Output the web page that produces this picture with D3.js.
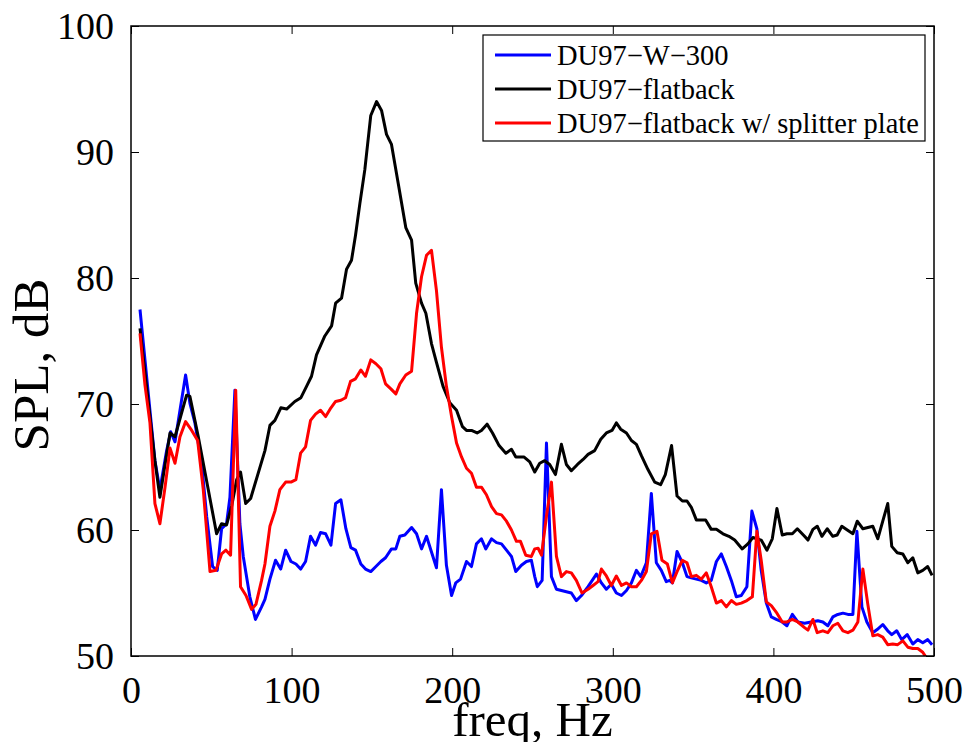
<!DOCTYPE html>
<html>
<head>
<meta charset="utf-8">
<script src="https://cdn.jsdelivr.net/npm/d3@7/dist/d3.min.js"></script>
<style>
  html, body { margin: 0; padding: 0; background: #fff; }
  svg { display: block; }
  text { font-family: "Liberation Serif", "Times New Roman", serif; fill: #000; }
</style>
</head>
<body>
<svg id="chart" width="966" height="742"></svg>
<script>
// Spectra of three trailing-edge configurations (frequency in Hz, SPL in dB)
const seriesNames = ["DU97\u2212W\u2212300", "DU97\u2212flatback", "DU97\u2212flatback w/ splitter plate"];
const seriesColors = ["#0000ff", "#000000", "#ff0000"];

const freqW300 = [5.6,8.7,11.8,14.9,18,22.2,24.7,27.4,30.5,34,36.7,39.8,44,47.1,50.8,53.7,56.4,59.5,61.6,64.7,67.8,69.9,74,77.5,81.3,83.4,86.5,90,93.2,96.3,99.6,102.7,105.6,108.7,111.8,114.9,118,121.2,124.5,127.4,130.7,133.8,136.9,139.8,143.1,146,149.3,152.5,155.6,158.5,162.2,164.9,167.4,170.5,174.7,177.8,180.9,184,190.2,193.3,196.4,199.6,202.2,205.2,208.9,212,215.1,218.2,220.9,224.5,227.6,230.7,233.8,236.9,239.6,243.1,246.2,249.3,251.4,253,256,258.7,261.8,264.9,268,274.2,277.3,280.5,284.6,289.8,292.9,296,299.1,302.2,305.4,308.5,311.6,314.7,317.4,320.9,324,327.1,330.2,333.3,335.4,337.1,340,343.3,346.2,348.9,352,355.1,358.2,361.3,364.5,367.6,370.7,373.8,376.9,380,383.5,386.6,389.7,392.4,395.6,398.7,401.8,405.5,408.4,411.8,415.2,419.4,423.6,427.7,430.8,433.9,437,440.1,443.3,446.4,449.5,452,455.1,458.2,461.9,464.6,468.1,471.2,473.7,476.8,479.9,483.3,486.8,489.9,493,496.1,498.8];
const splW300 = [77.5,73.5,69.5,65.5,63.2,66.3,67.8,67.0,69.5,72.3,70.05,68.5,65.3,61.1,57.1,56.8,60.1,60.5,62.6,71.1,60.5,57.9,54.7,52.9,53.9,54.5,56.1,57.6,56.9,58.4,57.5,57.3,56.9,57.5,59.5,58.8,59.8,59.7,58.8,62.1,62.4,60.1,58.6,58.4,57.3,56.9,56.7,57.1,57.5,57.8,58.5,58.5,59.5,59.6,60.2,59.7,58.5,59.5,57.0,63.2,57.2,54.8,55.8,56.1,57.5,57.1,58.9,59.3,58.5,59.3,59.0,58.9,58.4,57.9,56.7,57.2,57.5,57.6,56.3,55.5,56.0,66.9,56.3,55.3,55.2,55.0,54.4,54.8,55.5,56.5,55.8,55.3,55.7,55.0,54.8,55.2,55.8,56.8,56.3,57.4,62.9,57.4,56.8,55.9,56.0,55.8,58.3,57.4,56.3,56.2,56.1,56.0,55.8,56.0,57.5,58.1,57.1,56.0,54.7,54.8,55.5,61.5,60.1,56.8,54.2,53.1,52.9,52.7,52.4,53.3,52.7,52.6,52.7,52.8,52.7,52.4,53.1,53.3,53.4,53.3,53.3,59.9,53.9,52.7,51.85,52.1,52.5,52.0,51.7,52.0,51.3,51.7,50.95,51.3,51.05,51.3,50.9];

const freqFlat = [5.6,8.7,11.8,14.9,18,24.3,27.4,34.6,36.7,41.9,53.3,56.4,59.5,62.7,65.8,68.2,71.4,74.5,83.4,86.5,89.6,93.3,96.9,102,105.8,109.3,112.4,115.5,120.7,124.9,127.4,131.1,134.2,137.3,139.8,142.5,145.6,149.3,152.9,156,159.1,162.2,166.4,171.1,174.7,177.3,180.9,183.6,187.1,190.2,194.3,198.5,202.7,206.4,208.9,212,215.5,218.2,221.7,225.1,229.2,233.4,236.9,239.6,244.6,248.3,251.4,254.5,257.6,260.7,264.3,268,271.1,274.2,278,281.5,284.6,288.7,292.5,296,299.5,302.2,304.9,308.5,311.6,314.7,317.8,321.9,326.1,329.8,332.7,336.6,340,343.3,346.2,348.9,352,357.8,361.3,364.5,368.6,372.3,375.9,380.6,384.1,387.2,392.4,396,399.3,402.2,405.5,408.4,411.8,414.9,419.4,421.5,424.6,427.3,430.2,433.5,437,439.7,442.6,446,449.5,452.2,455.7,458.8,461.9,465,468.1,471.2,473.7,477.1,480.6,483.7,486.8,489.9,493,496.1,498.8];
const splFlat = [76.0,72.5,69.0,65.5,62.6,67.7,67.4,70.7,70.6,67.4,59.7,60.5,60.4,61.9,64.0,64.6,62.1,62.5,66.3,68.3,68.7,69.7,69.6,70.2,70.5,71.4,72.2,73.9,75.4,76.2,78.0,78.4,80.7,81.4,83.4,85.9,88.6,92.9,94.0,93.3,91.4,90.6,87.5,84.0,83.0,79.6,78.0,77.2,74.8,73.3,71.4,70.1,69.5,68.2,67.9,67.9,67.7,67.9,68.4,67.7,66.7,66.1,66.4,65.8,65.8,65.4,64.6,65.3,65.5,65.2,64.4,66.8,65.2,64.7,65.2,65.6,66.0,66.3,67.2,67.7,67.9,68.5,68.0,67.7,67.1,66.8,65.9,64.8,63.8,63.6,64.4,66.7,62.7,62.3,62.3,61.8,60.8,60.8,60.05,60.05,59.7,59.5,59.2,58.5,58.9,59.4,59.2,58.4,59.3,61.7,59.6,59.7,59.7,60.1,59.5,59.2,60.05,60.3,59.5,60.1,59.5,59.6,60.3,60.0,59.7,60.7,60.1,60.2,60.3,59.3,60.7,62.1,58.7,58.2,58.1,57.4,57.8,56.6,56.8,57.1,56.4];

const freqSplit = [5.6,8.7,11.8,14.9,18,21.2,24.3,27.4,30.5,34,37.8,41.5,45,49.2,52.9,56.4,59.1,62,65.2,68.2,71.6,75.1,77.8,81.3,83.4,86.5,89.6,92.7,96.3,99.6,102.7,105.6,108.7,111.8,114.9,118,121.2,124.5,127.4,130.7,133.6,136.7,139.8,143.1,146,149.3,152.5,155.6,158.5,161.8,164.9,167.4,171.1,174.7,177.8,180.9,184,187.1,190.2,193.3,196.4,199.6,202.7,205.8,208.9,212,215.1,218.2,221.3,224.5,227.6,230.7,233.8,236.9,240,242.5,245.8,249.3,251.4,253.5,255.6,258.7,261.8,264.9,268,271.1,274.2,277.3,280.8,284.6,287.7,290.8,292.9,296,299.1,302.2,305.4,308.5,311.6,314.7,317.8,320.9,324,327.5,330.6,334,337.1,340,343.3,346.2,348.9,352,355.1,358.2,361.3,364.5,367.6,370.7,373.8,376.9,380,383.5,386.9,389.7,392.4,395.6,398.7,402.2,405.5,408.4,411.8,415.2,419.4,421.5,424.6,427.3,430.8,433.9,437,440.1,443.3,446.4,449.5,452.6,455.7,458.8,461.9,465,468.1,471.2,474.3,477.4,480.6,483.7,486.8,489.9,493,496.1,498.8];
const splSplit = [75.6,71.5,68.5,62.1,60.5,63.4,66.5,65.3,67.4,68.6,67.9,67.1,63.2,56.7,56.8,58.1,58.4,58.0,71.1,55.5,54.8,53.7,54.1,56.0,57.3,60.3,61.5,63.2,63.8,63.8,64.0,66.1,66.6,68.7,69.2,69.5,69.0,69.7,70.2,70.3,70.5,71.8,72.0,72.7,72.2,73.5,73.2,72.8,71.6,71.2,70.8,71.6,72.3,72.6,77.2,80.1,81.8,82.2,79.0,74.5,71.4,69.0,66.9,65.8,64.9,64.5,63.4,63.4,62.8,61.85,61.3,61.2,60.7,60.0,59.1,59.1,58.0,57.9,58.5,58.55,58.0,61.1,63.8,57.9,56.3,56.7,56.6,56.0,55.0,55.3,55.6,55.9,56.9,56.35,55.6,56.35,55.6,55.8,55.5,55.5,56.0,56.7,59.7,59.9,57.6,57.3,55.8,56.7,57.6,57.4,56.3,56.4,56.1,56.6,55.5,54.2,54.4,53.9,54.4,54.1,54.2,54.4,54.7,59.9,57.6,54.3,54.0,53.4,52.7,52.7,52.9,52.7,52.25,52.05,52.9,51.85,52.0,51.85,52.4,52.6,52.0,51.85,52.05,52.7,56.9,54.1,51.6,51.7,51.5,50.9,50.95,50.9,51.2,50.7,50.6,50.6,50.3,49.7,49.5];

const xTicks = [0, 100, 200, 300, 400, 500];
const yTicks = [50, 60, 70, 80, 90, 100];

const seriesFreq = [freqW300, freqFlat, freqSplit];
const seriesSpl = [splW300, splFlat, splSplit];

const svg = d3.select("#chart");
const plot = { left: 131, right: 934, top: 26, bottom: 656 };

const x = d3.scaleLinear().domain([0, 500]).range([plot.left, plot.right]);
const y = d3.scaleLinear().domain([50, 100]).range([plot.bottom, plot.top]);

svg.append("defs").append("clipPath").attr("id", "plot-clip")
  .append("rect")
  .attr("x", plot.left).attr("y", plot.top)
  .attr("width", plot.right - plot.left).attr("height", plot.bottom - plot.top);

// Spectra
const line = d3.line().x(d => x(d[0])).y(d => y(d[1]));
const curves = svg.append("g").attr("clip-path", "url(#plot-clip)");
seriesNames.forEach((name, i) => {
  const pts = seriesFreq[i].map((f, j) => [f, seriesSpl[i][j]]);
  curves.append("path")
    .datum(pts)
    .attr("d", line)
    .attr("fill", "none")
    .attr("stroke", seriesColors[i])
    .attr("stroke-width", 3)
    .attr("stroke-linejoin", "round");
});

// Axes: ticks point inward on all four sides
const tickLen = 8;
const fontTick = 38;

const bottomAxis = d3.axisBottom(x).tickValues(xTicks).tickSizeInner(-tickLen).tickSizeOuter(0).tickPadding(tickLen + 12);
const topAxis = d3.axisTop(x).tickValues(xTicks).tickSizeInner(-tickLen).tickSizeOuter(0).tickFormat("");
const leftAxis = d3.axisLeft(y).tickValues(yTicks).tickSizeInner(-tickLen).tickSizeOuter(0).tickPadding(tickLen + 9);
const rightAxis = d3.axisRight(y).tickValues(yTicks).tickSizeInner(-tickLen).tickSizeOuter(0).tickFormat("");

function styleAxis(g) {
  g.select(".domain").remove();
  g.selectAll(".tick line").attr("stroke", "#000").attr("stroke-width", 1);
  g.selectAll(".tick text")
    .style("font-family", "'Liberation Serif', 'Times New Roman', serif")
    .style("font-size", fontTick + "px")
    .attr("fill", "#000");
}

svg.append("g").attr("transform", `translate(0,${plot.bottom})`).call(bottomAxis).call(styleAxis)
  .selectAll(".tick text").attr("dy", "0.71em");
svg.append("g").attr("transform", `translate(0,${plot.top})`).call(topAxis).call(styleAxis);
svg.append("g").attr("transform", `translate(${plot.left},0)`).call(leftAxis).call(styleAxis);
svg.append("g").attr("transform", `translate(${plot.right},0)`).call(rightAxis).call(styleAxis);

// Box
svg.append("rect")
  .attr("x", plot.left).attr("y", plot.top)
  .attr("width", plot.right - plot.left).attr("height", plot.bottom - plot.top)
  .attr("fill", "none").attr("stroke", "#000").attr("stroke-width", 1.5);

// Axis titles
svg.append("text")
  .attr("x", (plot.left + plot.right) / 2).attr("y", 736)
  .attr("text-anchor", "middle")
  .style("font-size", "49px")
  .text("freq, Hz");

svg.append("text")
  .attr("transform", `translate(48,365) rotate(-90)`)
  .attr("text-anchor", "middle")
  .style("font-size", "51px")
  .text("SPL, dB");

// Legend
const legend = svg.append("g");
legend.append("rect")
  .attr("x", 483).attr("y", 35).attr("width", 442).attr("height", 106)
  .attr("fill", "#fff").attr("stroke", "#000").attr("stroke-width", 1.2);
const rowY = [55, 89, 123];
seriesNames.forEach((name, i) => {
  legend.append("line")
    .attr("x1", 495).attr("x2", 551).attr("y1", rowY[i]).attr("y2", rowY[i])
    .attr("stroke", seriesColors[i]).attr("stroke-width", 3);
  legend.append("text")
    .attr("x", 557).attr("y", rowY[i] + 10)
    .style("font-size", "28.5px")
    .text(name);
});
</script>
</body>
</html>
